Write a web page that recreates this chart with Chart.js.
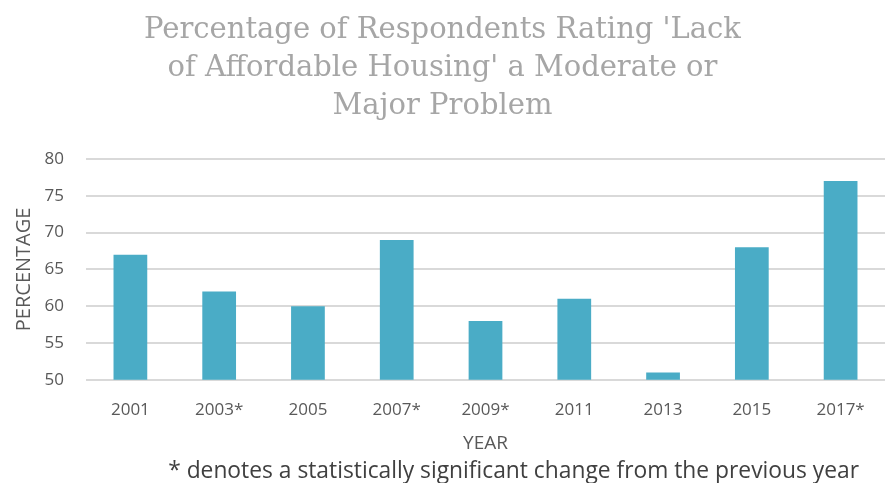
<!DOCTYPE html>
<html>
<head>
<meta charset="utf-8">
<script src="https://cdn.jsdelivr.net/npm/chart.js@4"></script>
<style>
  html, body { margin: 0; padding: 0; background: #fff; overflow: hidden; }
</style>
</head>
<body>
<canvas id="chart" width="885" height="483"></canvas>
<script>
// data
const years = ["2001", "2003*", "2005", "2007*", "2009*", "2011", "2013", "2015", "2017*"];
const percentages = [67, 62, 60, 69, 58, 61, 51, 68, 77];
const yTicks = [50, 55, 60, 65, 70, 75, 80];

const titleLines = [
  "Percentage of Respondents Rating 'Lack",
  "of Affordable Housing' a Moderate or",
  "Major Problem"
];
// leading spaces push the note a bit right of centre, as in the original
const footnote = "                        * denotes a statistically significant change from the previous year";

const tickFont = { family: "'Open Sans', sans-serif", size: 17 };
const axisTitleFont = { family: "'Open Sans', sans-serif", size: 20 };

const ctx = document.getElementById("chart").getContext("2d");
new Chart(ctx, {
  type: "bar",
  data: {
    labels: years,
    datasets: [
      {
        label: "Percentage",
        data: percentages,
        backgroundColor: "#4aacc6",
        barPercentage: 0.76,
        categoryPercentage: 0.5,
      },
    ],
  },
  options: {
    responsive: false,
    animation: false,
    layout: { padding: { top: 0, right: 0, bottom: 0, left: 0 } },
    plugins: {
      legend: { display: false },
      tooltip: { enabled: false },
      title: {
        display: true,
        text: titleLines,
        color: "#a6a6a6",
        font: { family: "'DejaVu Serif', serif", size: 29, weight: "normal", lineHeight: 1.31 },
        padding: { top: 11, bottom: 34 },
      },
      subtitle: {
        display: true,
        position: "bottom",
        text: footnote,
        color: "#404040",
        font: { family: "'Open Sans', sans-serif", size: 22.8, lineHeight: 1.05 },
        padding: { top: 0, bottom: 0 },
      },
    },
    scales: {
      x: {
        grid: { display: false },
        border: { display: false },
        ticks: { color: "#595959", font: tickFont, padding: 12, maxRotation: 0 },
        title: {
          display: true,
          text: "YEAR",
          color: "#595959",
          font: { family: "'Open Sans', sans-serif", size: 19 },
          padding: { top: 0, bottom: 4 },
        },
      },
      y: {
        min: 50,
        max: 80,
        afterBuildTicks: (axis) => {
          axis.ticks = yTicks.map((v) => ({ value: v }));
        },
        afterFit: (axis) => {
          axis.width = 86;
        },
        grid: { color: "#d9d9d9", lineWidth: 2, drawTicks: false },
        border: { display: false },
        ticks: { color: "#595959", font: tickFont, padding: 22 },
        title: {
          display: true,
          text: "PERCENTAGE",
          color: "#595959",
          font: axisTitleFont,
          padding: { top: 12, bottom: 0 },
        },
      },
    },
  },
});
</script>
</body>
</html>
